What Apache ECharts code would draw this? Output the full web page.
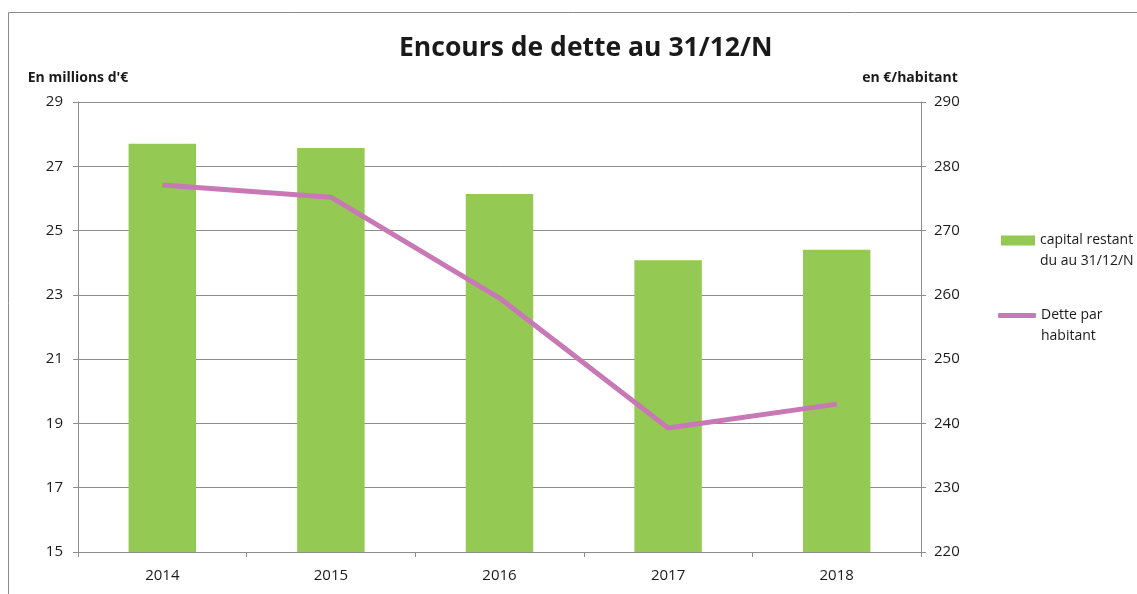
<!DOCTYPE html>
<html>
<head>
<meta charset="utf-8">
<script src="https://cdn.jsdelivr.net/npm/echarts@6/dist/echarts.min.js"></script>
<style>
  html, body { margin: 0; padding: 0; background: #fff; }
  #chart { width: 1137px; height: 594px; }
</style>
</head>
<body>
<div id="chart"></div>
<script>
// données
const years = ['2014', '2015', '2016', '2017', '2018'];
const capitalRestant = [27.7, 27.57, 26.14, 24.08, 24.4]; // millions d'€
const detteParHabitant = [277.1, 275.2, 259.5, 239.3, 243.0]; // €/habitant

const FONT = '"Open Sans", "DejaVu Sans", sans-serif';
const GRAY = '#8c8c8c';
const GREEN = '#94c954';
const PINK = '#c879b5';

const BAR_NAME = 'capital restant\ndu au 31/12/N';
const LINE_NAME = 'Dette par\nhabitant';

const chart = echarts.init(document.getElementById('chart'));

// ligne vide en tête : l'icône se retrouve alignée sur la 1re ligne du texte
const legendText = {
  fontFamily: FONT, fontSize: 14, color: '#1a1a1a', lineHeight: 21
};

const option = {
  animation: false,
  backgroundColor: '#fff',
  title: {
    text: 'Encours de dette au 31/12/N',
    left: 394,
    top: 30,
    textStyle: { fontFamily: FONT, fontSize: 26.5, fontWeight: 'bold', color: '#1a1a1a' }
  },
  graphic: [{
    type: 'rect',
    shape: { x: 8.5, y: 12.5, width: 1200, height: 700 },
    style: { fill: null, stroke: GRAY, lineWidth: 1 },
    silent: true
  }],
  legend: [{
    orient: 'vertical',
    left: 996,
    top: 204,
    itemWidth: 34,
    itemHeight: 10,
    formatter: (name) => '\n' + name,
    textStyle: legendText,
    data: [{ name: BAR_NAME, icon: 'rect' }]
  }, {
    orient: 'vertical',
    left: 993,
    top: 279,
    itemWidth: 38,
    itemHeight: 5,
    formatter: (name) => '\n' + name,
    textStyle: legendText,
    data: [{ name: LINE_NAME, icon: 'roundRect' }]
  }],
  grid: { left: 78, right: 216, top: 102, bottom: 42, containLabel: false },
  xAxis: {
    type: 'category',
    data: years,
    boundaryGap: true,
    axisLine: { lineStyle: { color: GRAY } },
    axisTick: { show: true, length: 5, lineStyle: { color: GRAY } },
    axisLabel: { fontFamily: FONT, fontSize: 15, color: '#1a1a1a', margin: 16 }
  },
  yAxis: [{
    type: 'value',
    min: 15, max: 29, interval: 2,
    name: "En millions d'€",
    nameLocation: 'end',
    nameGap: 17,
    nameTextStyle: { fontFamily: FONT, fontSize: 14, fontWeight: 'bold', color: '#1a1a1a' },
    axisLine: { show: true, lineStyle: { color: GRAY } },
    axisTick: { show: true, length: 5, lineStyle: { color: GRAY } },
    axisLabel: { fontFamily: FONT, fontSize: 15, color: '#1a1a1a', margin: 15 },
    splitLine: { show: true, lineStyle: { color: GRAY, width: 1 } }
  }, {
    type: 'value',
    min: 220, max: 290, interval: 10,
    name: 'en €/habitant',
    nameLocation: 'end',
    nameGap: 17,
    nameTextStyle: { fontFamily: FONT, fontSize: 14, fontWeight: 'bold', color: '#1a1a1a', padding: [0, 22, 0, 0] },
    axisLine: { show: true, lineStyle: { color: GRAY } },
    axisTick: { show: true, length: 5, lineStyle: { color: GRAY } },
    axisLabel: { fontFamily: FONT, fontSize: 15, color: '#1a1a1a', margin: 13 },
    splitLine: { show: false }
  }],
  series: [{
    name: BAR_NAME,
    type: 'bar',
    yAxisIndex: 0,
    barWidth: '40%',
    itemStyle: { color: GREEN },
    data: capitalRestant
  }, {
    name: LINE_NAME,
    type: 'line',
    yAxisIndex: 1,
    symbol: 'none',
    lineStyle: { color: PINK, width: 5 },
    itemStyle: { color: PINK },
    data: detteParHabitant
  }]
};

chart.setOption(option);
</script>
</body>
</html>
